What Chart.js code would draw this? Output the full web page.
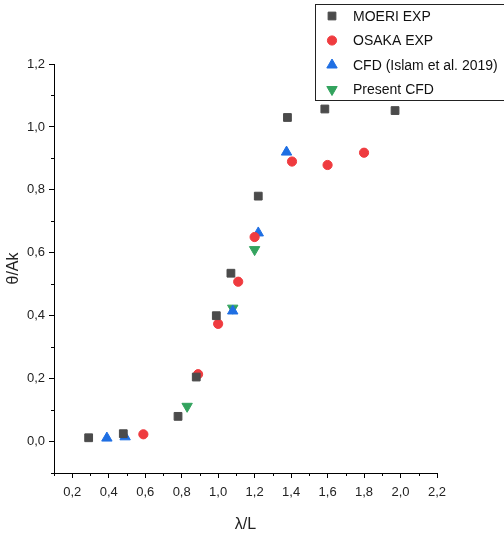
<!DOCTYPE html>
<html>
<head>
<meta charset="utf-8">
<script src="https://cdn.jsdelivr.net/npm/chart.js@4/dist/chart.umd.min.js"></script>
<style>
  html, body { margin: 0; padding: 0; background: #fff; }
  #wrap { width: 504px; height: 536px; }
</style>
</head>
<body>
<div id="wrap"><canvas id="chart" width="504" height="536"></canvas></div>
<script>
// values
const moeriX = [0.29, 0.48, 0.78, 0.88, 0.99, 1.07, 1.22, 1.38, 1.585, 1.97];
const moeriY = [0.012, 0.025, 0.08, 0.205, 0.40, 0.535, 0.78, 1.03, 1.057, 1.052];

const osakaX = [0.59, 0.89, 1.0, 1.11, 1.20, 1.405, 1.60, 1.80];
const osakaY = [0.023, 0.214, 0.374, 0.508, 0.65, 0.89, 0.879, 0.918];

const islamX = [0.39, 0.49, 1.08, 1.22, 1.375];
const islamY = [0.011, 0.015, 0.415, 0.663, 0.92];

const presentX = [0.83, 1.08, 1.20];
const presentY = [0.112, 0.424, 0.61];

const xTicks = [0.2, 0.4, 0.6, 0.8, 1.0, 1.2, 1.4, 1.6, 1.8, 2.0, 2.2];
const yTicks = [0.0, 0.2, 0.4, 0.6, 0.8, 1.0, 1.2];
const xMinor = [0.1, 0.3, 0.5, 0.7, 0.9, 1.1, 1.3, 1.5, 1.7, 1.9, 2.1];
const yMinor = [-0.1, 0.1, 0.3, 0.5, 0.7, 0.9, 1.1];

const FONT = "'Liberation Sans', Arial, sans-serif";

const toPoints = (xs, ys) => xs.map((x, i) => ({ x, y: ys[i] }));
const comma = (v) => Number(v).toFixed(1).replace(".", ",");

const datasets = [
  {
    label: "MOERI EXP",
    data: toPoints(moeriX, moeriY),
    pointStyle: "rect",
    pointRadius: 5.5,
    backgroundColor: "#4b4b4b",
    borderColor: "#4b4b4b",
  },
  {
    label: "OSAKA EXP",
    data: toPoints(osakaX, osakaY),
    pointStyle: "circle",
    pointRadius: 4.6,
    backgroundColor: "#ef3b3f",
    borderColor: "#ef3b3f",
  },
  {
    label: "CFD (Islam et al. 2019)",
    data: toPoints(islamX, islamY),
    pointStyle: "triangle",
    pointRadius: 6,
    backgroundColor: "#1f6fe3",
    borderColor: "#1f6fe3",
  },
  {
    label: "Present CFD",
    data: toPoints(presentX, presentY),
    pointStyle: "triangle",
    rotation: 180,
    pointRadius: 6,
    backgroundColor: "#33a35e",
    borderColor: "#33a35e",
  },
];

// short ticks between the labelled ones
const minorTicks = {
  id: "minorTicks",
  afterDraw(chart) {
    const { ctx, scales, chartArea } = chart;
    ctx.save();
    ctx.strokeStyle = "#000";
    ctx.lineWidth = 1;
    ctx.beginPath();
    xMinor.forEach((v) => {
      const px = Math.round(scales.x.getPixelForValue(v)) + 0.5;
      ctx.moveTo(px, chartArea.bottom);
      ctx.lineTo(px, chartArea.bottom + 3);
    });
    yMinor.forEach((v) => {
      const py = Math.round(scales.y.getPixelForValue(v)) + 0.5;
      ctx.moveTo(chartArea.left, py);
      ctx.lineTo(chartArea.left - 3, py);
    });
    ctx.stroke();
    ctx.restore();
  },
};

// boxed legend sitting in the top-right corner
const boxLegend = {
  id: "boxLegend",
  afterDraw(chart) {
    const { ctx } = chart;
    ctx.save();
    ctx.strokeStyle = "#222";
    ctx.lineWidth = 1;
    ctx.strokeRect(315.5, 4.5, 200, 96);
    ctx.font = "14px " + FONT;
    ctx.textBaseline = "middle";
    chart.data.datasets.forEach((ds, i) => {
      const y = 16 + i * 24.5;
      ctx.fillStyle = ds.backgroundColor;
      ctx.strokeStyle = ds.borderColor;
      Chart.helpers.drawPoint(ctx, {
        pointStyle: ds.pointStyle,
        radius: ds.pointRadius,
        rotation: ds.rotation || 0,
        borderWidth: 1,
      }, 332, y);
      ctx.fillStyle = "#111";
      ctx.fillText(ds.label, 353, y + 1);
    });
    ctx.restore();
  },
};

new Chart(document.getElementById("chart"), {
  type: "scatter",
  data: { datasets },
  plugins: [minorTicks, boxLegend],
  options: {
    responsive: false,
    animation: false,
    devicePixelRatio: 1,
    layout: { padding: { top: 64, right: 67, left: 0, bottom: 0 } },
    plugins: {
      legend: { display: false },
      tooltip: { enabled: false },
    },
    scales: {
      x: {
        type: "linear",
        min: 0.1,
        max: 2.2,
        afterBuildTicks: (scale) => {
          scale.ticks = xTicks.map((value) => ({ value }));
        },
        afterFit: (scale) => {
          scale.height = 63;
        },
        grid: {
          drawOnChartArea: false,
          drawTicks: true,
          tickLength: 5,
          tickColor: "#000",
        },
        border: { display: true, color: "#000", width: 1 },
        ticks: {
          color: "#222",
          padding: 7,
          maxRotation: 0,
          font: { family: FONT, size: 13 },
          callback: (v) => comma(v),
        },
        title: {
          display: true,
          text: "λ/L",
          color: "#222",
          padding: { top: 0, bottom: 2 },
          font: { family: FONT, size: 16 },
        },
      },
      y: {
        type: "linear",
        min: -0.1,
        max: 1.2,
        afterBuildTicks: (scale) => {
          scale.ticks = yTicks.map((value) => ({ value }));
        },
        afterFit: (scale) => {
          scale.width = 54;
        },
        grid: {
          drawOnChartArea: false,
          drawTicks: true,
          tickLength: 5,
          tickColor: "#000",
        },
        border: { display: true, color: "#000", width: 1 },
        ticks: {
          color: "#222",
          padding: 4,
          font: { family: FONT, size: 13 },
          callback: (v) => comma(v),
        },
        title: {
          display: true,
          text: "θ/Ak",
          color: "#222",
          padding: { top: 4, bottom: 0 },
          font: { family: FONT, size: 16 },
        },
      },
    },
  },
});
</script>
</body>
</html>
